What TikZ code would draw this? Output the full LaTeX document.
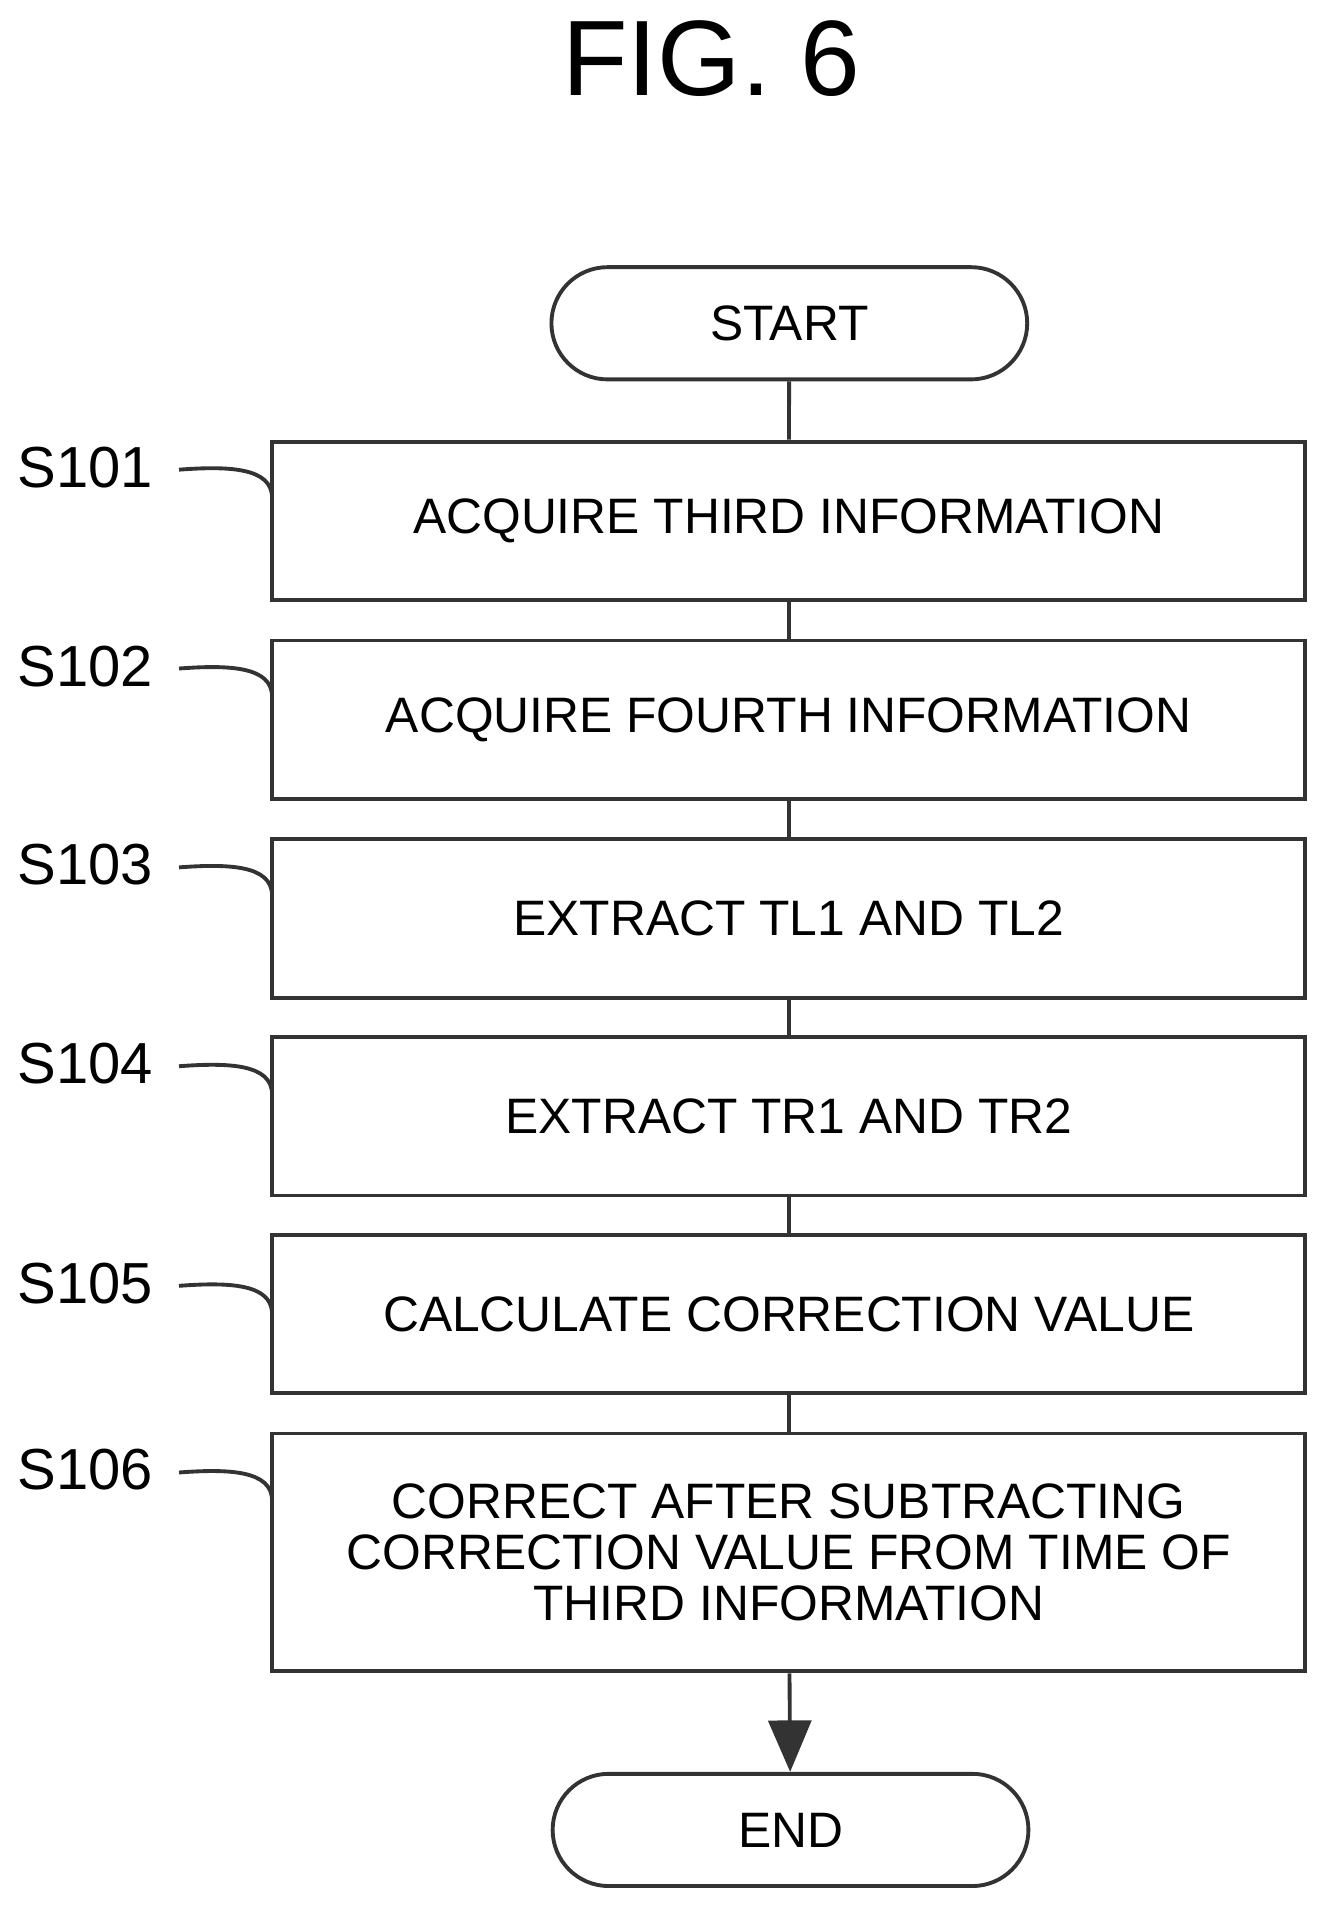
\documentclass[tikz,border=0pt]{standalone}
\usepackage{fontspec}
\setmainfont{Liberation Sans}
\usetikzlibrary{arrows.meta}
\begin{document}
\begin{tikzpicture}[x=0.01cm,y=-0.01cm,
  line width=0.9pt, draw=black!80,
  box/.style={draw, minimum width=847*0.01cm, minimum height=130*0.01cm, align=center, font=\fontsize{11.6}{13}\selectfont, inner sep=0pt},
  term/.style={draw, rounded corners=46*0.01cm, minimum width=390*0.01cm, minimum height=92*0.01cm, font=\fontsize{11.6}{13}\selectfont},
  lab/.style={font=\fontsize{13.5}{15}\selectfont},
  lead/.style={line width=0.9pt}]
\useasboundingbox (0,0) rectangle (1085,1564);
\node[font=\fontsize{25}{26}\selectfont] (title) at (583,48) {FIG. 6};
\node[term] (start) at (647,265) {START};
\node[box] (s1) at (646.5,427) {ACQUIRE THIRD INFORMATION};
\node[box] (s2) at (646.5,590) {ACQUIRE FOURTH INFORMATION};
\node[box] (s3) at (646.5,753) {EXTRACT TL1 AND TL2};
\node[box] (s4) at (646.5,915) {EXTRACT TR1 AND TR2};
\node[box] (s5) at (646.5,1077) {CALCULATE CORRECTION VALUE};
\node[box, minimum height=195*0.01cm, font=\fontsize{11.6}{11.8}\selectfont] (s6) at (646.5,1272.5) {CORRECT AFTER SUBTRACTING\\CORRECTION VALUE FROM TIME OF\\THIRD INFORMATION};
\node[term] (end) at (648,1500) {END};
\draw (start) -- (s1);
\draw (s1) -- (s2);
\draw (s2) -- (s3);
\draw (s3) -- (s4);
\draw (s4) -- (s5);
\draw (s5) -- (s6);
\draw[-{Triangle[length=12pt,width=10pt]}] (s6) -- (end);
\foreach \i/\y in {1/383,2/546,3/709,4/872,5/1052,6/1205}{
  \node[lab] (l\i) at (70,\y) {S10\i};
  \coordinate (e\i) at (223,\y+25);
  \draw[lead] (l\i.east) ++(8,2) .. controls +(40,-3) and +(0,-25) .. (e\i);
}
\end{tikzpicture}
\end{document}
